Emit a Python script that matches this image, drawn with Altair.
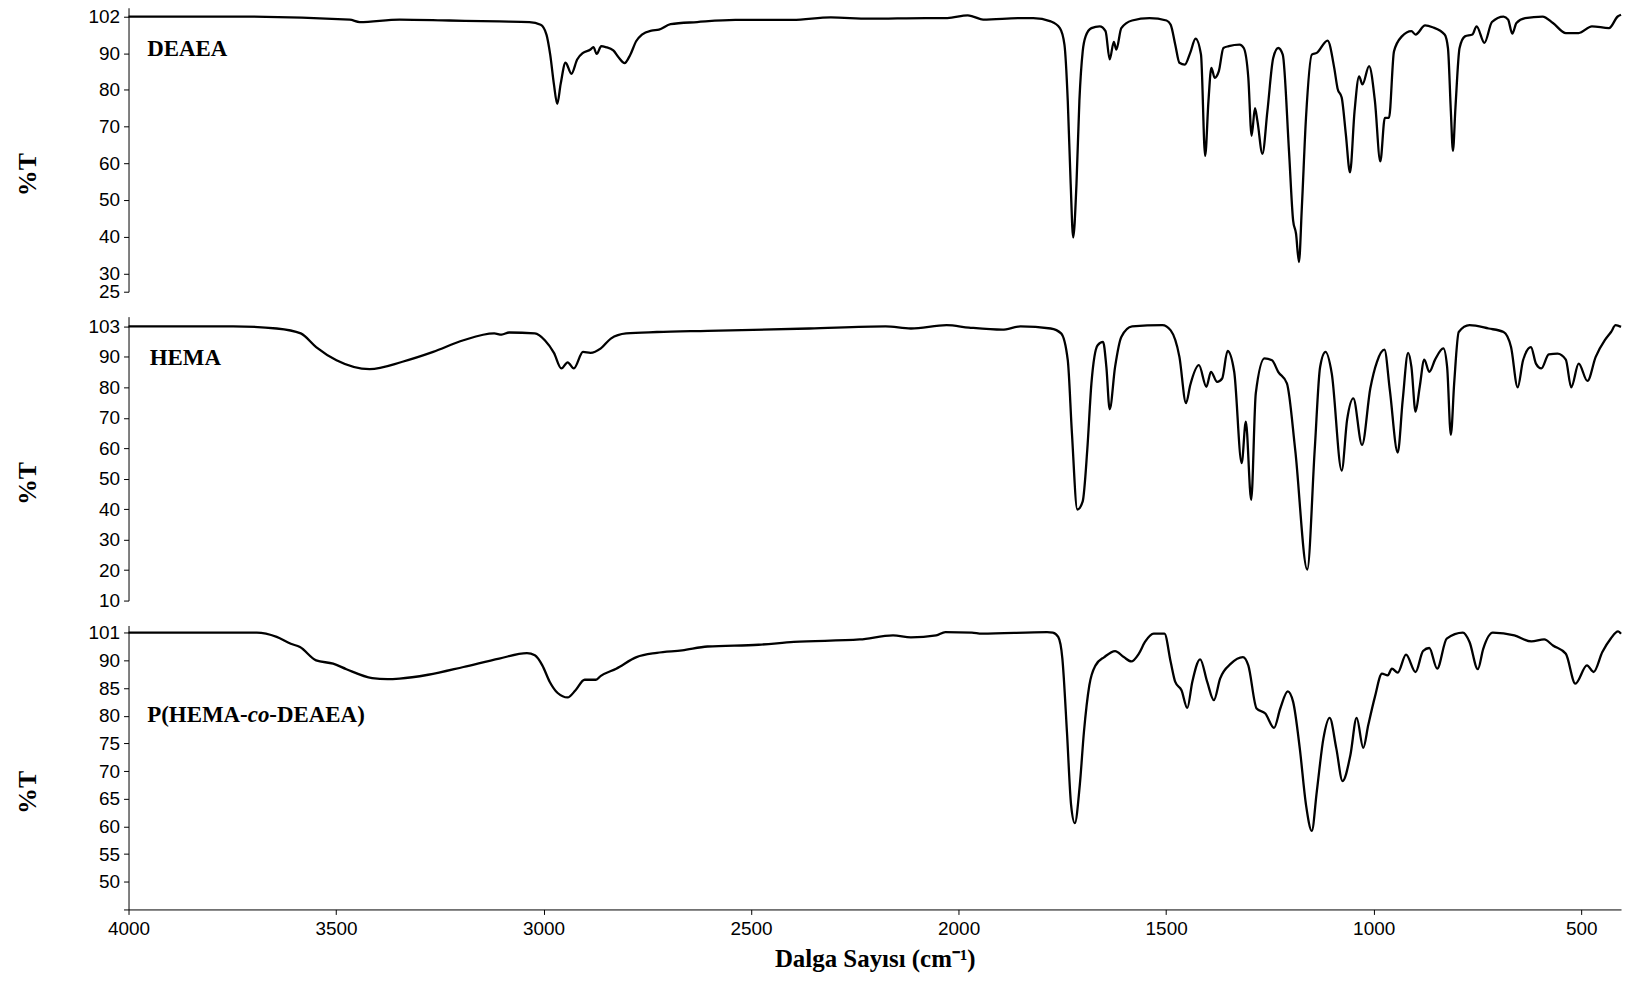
import altair as alt
import pandas as pd

# ---------------- data (wavenumber cm-1, %T) ----------------
deaea_wn = [4000, 3748, 3467, 3443, 3347, 3227, 3107, 3034, 3007, 2993, 2984, 2975, 2967, 2959, 2947,
            2933, 2919, 2905, 2887, 2880, 2872, 2861, 2850, 2832, 2818, 2805, 2791, 2777, 2763, 2740,
            2722, 2694, 2630, 2538, 2400, 2308, 2216, 2079, 2027, 1978, 1965, 1941, 1849, 1820, 1778,
            1756, 1745, 1737, 1730, 1724, 1716, 1709, 1701, 1694, 1680, 1660, 1646, 1636, 1626, 1620,
            1608, 1582, 1540, 1499, 1489, 1478, 1468, 1455, 1442, 1429, 1416, 1406, 1398, 1391, 1383,
            1373, 1362, 1349, 1323, 1313, 1302, 1294, 1286, 1280, 1268, 1256, 1242, 1230, 1219, 1204,
            1194, 1187, 1180, 1173, 1163, 1149, 1137, 1111, 1095, 1087, 1077, 1067, 1057, 1046, 1035,
            1027, 1011, 997, 984, 973, 963, 951, 932, 909, 899, 876, 858, 829, 821, 814,
            809, 803, 793, 780, 762, 752, 733, 715, 687, 676, 666, 656, 635, 593, 568,
            537, 506, 474, 433, 412, 404]
deaea_t = [102.0, 102.0, 101.0, 100.2, 101.0, 100.7, 100.4, 100.2, 99.3, 96.1, 89.6, 81.5, 76.2, 81.5, 87.4,
           84.4, 88.3, 90.1, 91.2, 92.0, 89.8, 92.3, 92.0, 90.9, 88.7, 87.3, 89.6, 93.9, 96.1, 97.4,
           97.7, 99.5, 100.2, 100.9, 100.9, 101.7, 101.3, 101.5, 101.5, 102.4, 102.0, 101.0, 101.5, 101.5, 100.4,
           98.2, 92.8, 77.0, 54.4, 39.8, 54.4, 77.0, 90.6, 95.5, 98.2, 98.8, 97.2, 88.3, 93.7, 91.2,
           98.2, 100.7, 101.5, 100.7, 99.3, 92.8, 87.4, 86.9, 90.1, 94.8, 89.6, 62.0, 77.0, 86.0, 83.3,
           85.1, 91.7, 92.3, 92.8, 91.7, 83.3, 67.5, 75.0, 71.5, 62.6, 74.2, 88.7, 91.7, 89.6, 63.4,
           44.4, 40.8, 33.1, 48.0, 72.4, 89.6, 90.1, 94.1, 86.0, 80.4, 77.9, 67.9, 57.5, 74.2, 83.7,
           81.5, 86.5, 77.0, 60.5, 72.4, 72.4, 90.6, 95.5, 97.2, 96.1, 99.1, 98.5, 96.1, 91.7, 74.2,
           63.4, 75.0, 91.7, 95.5, 96.1, 98.8, 93.4, 100.2, 102.0, 101.0, 96.4, 99.9, 101.5, 102.0, 99.9,
           96.6, 96.6, 98.8, 98.2, 102.0, 102.6]

hema_wn = [4000, 3748, 3643, 3585, 3548, 3499, 3419, 3340, 3266, 3193, 3119, 3101, 3083, 3021, 2997,
           2975, 2957, 2942, 2927, 2905, 2887, 2862, 2838, 2801, 2727, 2605, 2360, 2176, 2115, 2029,
           1975, 1895, 1851, 1778, 1753, 1737, 1727, 1714, 1701, 1690, 1680, 1665, 1652, 1644, 1636,
           1623, 1608, 1582, 1509, 1489, 1468, 1452, 1442, 1421, 1403, 1392, 1377, 1365, 1352, 1336,
           1318, 1308, 1295, 1284, 1263, 1245, 1230, 1209, 1189, 1160, 1142, 1129, 1116, 1101, 1077,
           1064, 1049, 1028, 1008, 992, 974, 961, 942, 930, 917, 909, 899, 889, 878, 866,
           852, 832, 823, 814, 806, 795, 769, 723, 687, 669, 653, 640, 621, 609, 596,
           578, 557, 537, 524, 506, 485, 465, 443, 428, 417, 404]
hema_t = [103.0, 103.0, 102.1, 100.0, 94.2, 88.9, 86.0, 88.4, 92.1, 97.1, 100.0, 99.5, 100.4, 100.0, 97.1,
          91.7, 86.2, 88.2, 86.2, 92.1, 91.7, 93.6, 97.8, 100.0, 100.6, 101.1, 102.1, 103.0, 102.1, 103.5,
          102.5, 101.6, 103.0, 102.1, 100.0, 88.9, 65.0, 39.9, 42.6, 59.5, 81.3, 95.0, 96.4, 86.7, 72.8,
          86.7, 98.5, 103.0, 103.5, 101.3, 90.0, 74.8, 80.7, 87.3, 80.2, 85.1, 81.8, 82.9, 92.5, 85.1,
          55.1, 68.7, 43.1, 78.0, 89.5, 88.9, 85.1, 81.3, 59.5, 20.2, 59.5, 86.7, 92.1, 84.6, 52.7,
          69.3, 76.4, 61.1, 79.7, 88.4, 93.1, 79.1, 58.6, 75.8, 91.7, 86.7, 72.0, 80.2, 89.1, 85.1,
          89.1, 93.6, 86.7, 64.4, 81.3, 100.6, 103.5, 102.1, 100.6, 94.2, 80.0, 88.9, 94.2, 87.8, 86.2,
          91.1, 91.4, 89.1, 80.0, 87.8, 82.1, 90.0, 97.1, 100.6, 103.5, 102.8]

copoly_wn = [4000, 3691, 3643, 3609, 3587, 3548, 3507, 3475, 3413, 3376, 3347, 3278, 3193, 3107, 3040,
             3021, 3003, 2985, 2966, 2942, 2923, 2901, 2874, 2862, 2825, 2776, 2727, 2666, 2605, 2482,
             2397, 2238, 2158, 2115, 2054, 2032, 1968, 1944, 1787, 1773, 1760, 1750, 1739, 1729, 1720,
             1708, 1698, 1685, 1670, 1649, 1623, 1602, 1584, 1566, 1551, 1530, 1504, 1489, 1478, 1463,
             1449, 1437, 1418, 1401, 1385, 1370, 1344, 1315, 1302, 1282, 1261, 1240, 1225, 1207, 1194,
             1178, 1163, 1149, 1137, 1121, 1106, 1090, 1075, 1056, 1041, 1025, 1013, 997, 980, 966,
             956, 942, 922, 899, 881, 866, 847, 824, 785, 769, 749, 736, 713, 661, 620,
             589, 568, 537, 514, 486, 470, 449, 429, 411, 404]
copoly_t = [101.0, 101.0, 99.3, 96.6, 95.3, 90.0, 89.4, 88.4, 86.8, 86.6, 86.7, 87.4, 88.8, 90.7, 92.9,
            92.0, 89.1, 86.1, 84.1, 83.3, 84.6, 86.5, 86.5, 87.2, 88.5, 91.3, 93.0, 94.0, 95.5, 96.2,
            97.3, 98.3, 99.9, 99.1, 99.9, 101.2, 101.0, 100.6, 101.2, 101.0, 99.3, 90.7, 77.1, 63.9, 60.6,
            67.5, 77.1, 85.5, 89.1, 91.3, 93.7, 91.3, 89.8, 92.6, 97.3, 100.6, 100.6, 89.7, 86.1, 84.6,
            81.4, 86.1, 90.4, 86.1, 82.8, 86.7, 89.4, 91.3, 89.1, 81.3, 80.4, 77.8, 81.3, 84.4, 82.5,
            74.1, 63.9, 59.2, 66.3, 75.9, 79.6, 74.1, 68.2, 72.9, 79.6, 74.2, 78.3, 83.4, 87.6, 87.3,
            88.5, 87.8, 92.3, 87.9, 93.7, 94.9, 88.5, 98.6, 101.0, 97.3, 88.4, 94.6, 101.0, 99.9, 97.5,
            98.3, 95.9, 92.6, 85.8, 89.1, 87.9, 93.3, 98.6, 101.5, 100.6]

# y tick labels of each panel (the axes are broken near the top)
deaea_ticks = [25, 30, 40, 50, 60, 70, 80, 90, 102]
hema_ticks = [10, 20, 30, 40, 50, 60, 70, 80, 90, 103]
copoly_ticks = [45, 50, 55, 60, 65, 70, 75, 80, 85, 90, 101]
x_ticks = [4000, 3500, 3000, 2500, 2000, 1500, 1000, 500]

PANEL_W = 1498
PANEL_H = 285
X_DOMAIN = [4000, 404]

SERIF = "Liberation Serif"
SANS = "Liberation Sans"


def panel(wn, t, ticks, ydomain, yrange, labels, show_x):
    df = pd.DataFrame({"wn": wn, "T": t})
    if show_x:
        xaxis = alt.Axis(values=x_ticks, format="d", title="Dalga Sayısı (cm⁻¹)",
                         titleFont=SERIF, titleFontWeight="bold", titleFontSize=25,
                         titlePadding=8, labelPadding=5, tickSize=5, labelFlush=False,
                         labelOverlap=False)
    else:
        xaxis = None
    x = alt.X("wn:Q", scale=alt.Scale(domain=X_DOMAIN, nice=False, zero=False), axis=xaxis)
    y = alt.Y("T:Q",
              scale=alt.Scale(domain=ydomain, range=yrange, nice=False, zero=False),
              axis=alt.Axis(values=ticks, title="%T", titleFont=SERIF, titleFontWeight="bold",
                            titleFontSize=26, titleX=-101, titleY=167, titleAngle=270,
                            titleAlign="center", titleBaseline="middle", labelFlush=False,
                            labelOverlap=False,
                            labelExpr="datum.value == 45 ? '' : datum.label",
                            tickSize=5, labelPadding=4))
    line = alt.Chart(df).mark_line(color="black", strokeWidth=2.3,
                                   interpolate="monotone").encode(x=x, y=y)
    layers = [line]
    for (txt, lx, ly, dx, style) in labels:
        tdf = pd.DataFrame({"wn": [lx], "T": [ly], "txt": [txt]})
        layers.append(
            alt.Chart(tdf).mark_text(font=SERIF, fontWeight="bold", fontStyle=style, fontSize=23,
                                     align="left", baseline="alphabetic", dx=dx, color="black")
            .encode(x=x, y=y, text="txt:N"))
    return alt.layer(*layers).properties(width=PANEL_W, height=PANEL_H)


p1 = panel(deaea_wn, deaea_t, deaea_ticks, [25, 90, 102, 104.9], [285, 45.6, 8.8, 0],
           [("DEAEA", 3955, 89.2, 0, "normal")], False)
p2 = panel(hema_wn, hema_t, hema_ticks, [10, 90, 103, 107.2], [285, 40.4, 9.8, 0],
           [("HEMA", 3949, 87.3, 0, "normal")], False)
p3 = panel(copoly_wn, copoly_t, copoly_ticks, [45, 90, 101, 103.85], [285, 35.0, 7.2, 0],
           [("P(HEMA-", 3955, 78.9, 0, "normal"),
            ("co", 3955, 78.9, 100.9, "italic"),
            ("-DEAEA)", 3955, 78.9, 122.6, "normal")], True)

chart = alt.vconcat(p1, p2, p3, spacing=25, bounds="flush").resolve_scale(y="independent").properties(
    padding={"left": 15, "top": 5, "right": 0, "bottom": 0}
).configure_view(stroke=None).configure_axis(
    grid=False, domainColor="black", tickColor="black", labelColor="black",
    titleColor="black", labelFont=SANS, labelFontSize=19, domainWidth=1, tickWidth=1
)

chart.save("out.html", embed_options={"renderer": "svg", "actions": False})
